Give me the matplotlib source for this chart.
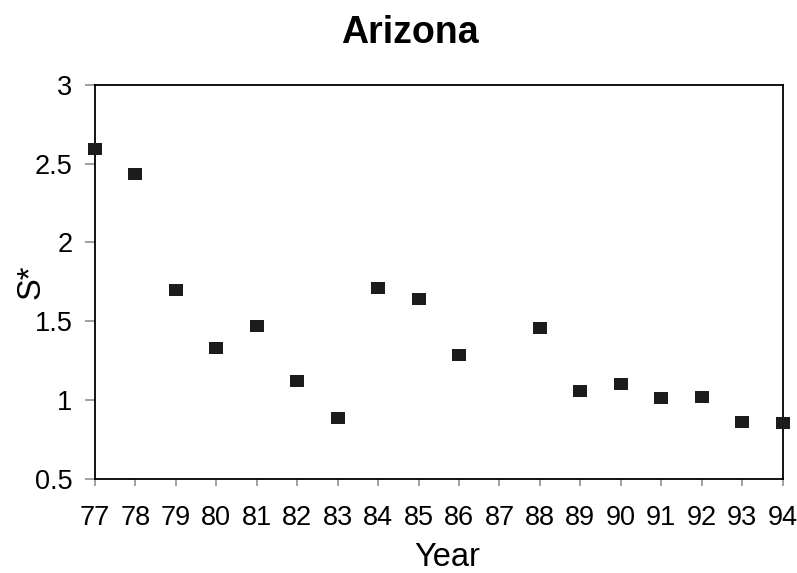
import numpy as np
import matplotlib.pyplot as plt
from matplotlib.ticker import FixedLocator

plt.rcParams['font.family'] = ['Liberation Sans', 'DejaVu Sans']

years = ['77', '78', '79', '80', '81', '82', '83', '84', '85', '86',
         '87', '88', '89', '90', '91', '92', '93', '94']
# 87 has no observation
s_star = [2.59, 2.435, 1.70, 1.33, 1.468, 1.124, 0.89, 1.714, 1.64, 1.289,
          np.nan, 1.458, 1.057, 1.104, 1.015, 1.019, 0.864, 0.858]
y_ticks = [0.5, 1, 1.5, 2, 2.5, 3]
y_ticklabels = ['0.5', '1', '1.5', '2', '2.5', '3']

fig = plt.figure(figsize=(7.97, 5.73), dpi=100)
ax = fig.add_axes([0.119, 0.164, 0.863, 0.688])

# slightly wide square marker like the original
box = [(-1, -0.79), (1, -0.79), (1, 0.79), (-1, 0.79), (-1, -0.79)]
x = np.arange(len(years))
ax.plot(x, s_star, linestyle='none', marker=box, markersize=10.5,
        color='#1c1c1c', markeredgewidth=0, clip_on=False, zorder=5)

ax.set_xlim(0, len(years) - 1)
ax.set_ylim(0.5, 3)
ax.xaxis.set_major_locator(FixedLocator(x))
ax.set_xticklabels(years)
ax.set_yticks(y_ticks)
ax.set_yticklabels(y_ticklabels)

# white minor ticks break the axis lines between the major ticks
ax.xaxis.set_minor_locator(FixedLocator(x[:-1] + 0.5))
ax.yaxis.set_minor_locator(FixedLocator(np.arange(0.75, 3, 0.5)))
ax.tick_params(which='minor', direction='inout', length=5, width=1.5,
               color='white')

ax.tick_params(axis='x', which='major', direction='out', length=5, width=1.2,
               color='#909090', labelsize=19.5, pad=14)
ax.tick_params(axis='y', which='major', direction='out', length=7, width=1.2,
               color='#909090', labelsize=19.5, pad=9)

for sp in ax.spines.values():
    sp.set_color('black')
    sp.set_linewidth(1.3)

ax.set_title('Arizona', fontsize=27, fontweight='bold', pad=30, x=0.458)
ax.set_xlabel('Year', fontsize=23.5)
ax.set_ylabel('S*', fontsize=23.5)
ax.xaxis.set_label_coords(0.513, -0.16)
ax.yaxis.set_label_coords(-0.07, 0.5)

fig.savefig('out.png', dpi=100)
